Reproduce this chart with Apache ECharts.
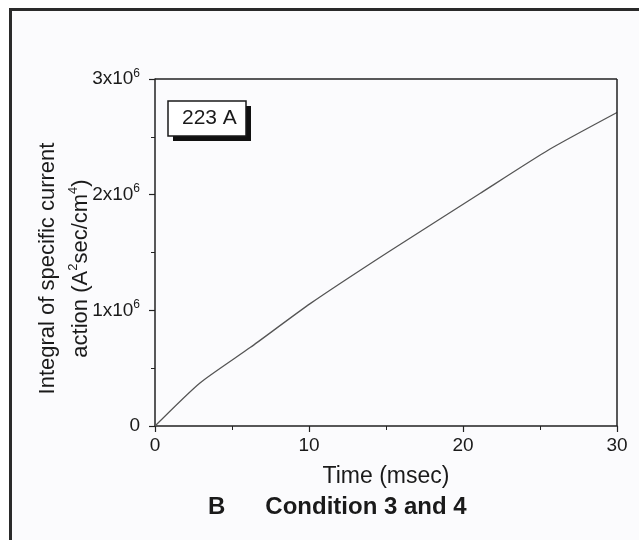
<!DOCTYPE html>
<html>
<head>
<meta charset="utf-8">
<script src="https://cdn.jsdelivr.net/npm/echarts@6/dist/echarts.min.js"></script>
<style>
  html, body { margin: 0; padding: 0; background: #ffffff; }
  #frame { position: absolute; left: 9px; top: 8px; width: 640px; height: 540px; border-left: 3px solid #2a2a2a; border-top: 3px solid #2a2a2a; background: #fbfbfd; }
  #chart { position: absolute; left: 0; top: 0; width: 639px; height: 540px; }
</style>
</head>
<body>
<div id="frame"></div>
<div id="chart"></div>
<script>
const seriesName = '223 A';
const timeMs = [0, 2.9, 6.2, 10.1, 15.1, 21.1, 25.6, 30];
const integralValues = [0, 0.37e6, 0.68e6, 1.06e6, 1.50e6, 2.01e6, 2.39e6, 2.71e6];
const xTicks = [0, 10, 20, 30];
const yTickLabels = { 0: '0', 1000000: '1x10', 2000000: '2x10', 3000000: '3x10' };

const font = 'Arial, "Liberation Sans", Helvetica, sans-serif';
const chart = echarts.init(document.getElementById('chart'), null, { renderer: 'canvas' });

const data = timeMs.map((t, i) => [t, integralValues[i]]);

chart.setOption({
  backgroundColor: 'transparent',
  animation: false,
  title: {
    text: '{b|B}{g|}{b|Condition 3 and 4}',
    left: 203,
    top: 490,
    textStyle: {
      rich: {
        b: { fontFamily: font, fontWeight: 'bold', fontSize: 24, color: '#1a1a1a' },
        g: { width: 40 }
      }
    }
  },
  legend: {
    data: [seriesName],
    left: 168,
    top: 101,
    z: 8,
    icon: 'rect',
    itemWidth: 0,
    itemHeight: 0,
    padding: [7, 9, 7, 9],
    backgroundColor: 'transparent',
    borderWidth: 0,
    textStyle: { fontFamily: font, fontSize: 21, color: '#1a1a1a' },
    selectedMode: false
  },
  grid: { left: 155, right: 22, top: 79, bottom: 114, show: false },
  xAxis: {
    type: 'value',
    min: 0, max: 30, interval: 10,
    name: 'Time (msec)',
    nameLocation: 'middle',
    nameGap: 39,
    nameMoveOverlap: false,
    nameTextStyle: { fontFamily: font, fontSize: 23, color: '#1a1a1a' },
    axisLine: { show: true, onZero: false, lineStyle: { color: '#222', width: 1.5 } },
    axisTick: { show: true, inside: false, length: 6, lineStyle: { color: '#222', width: 1.2 } },
    minorTick: { show: true, splitNumber: 2, length: 4, lineStyle: { color: '#222', width: 1 } },
    splitLine: { show: false },
    axisLabel: {
      margin: 10,
      fontFamily: font, fontSize: 19, color: '#1a1a1a',
      formatter: v => xTicks.includes(v) ? String(v) : ''
    }
  },
  yAxis: {
    type: 'value',
    min: 0, max: 3000000, interval: 1000000,
    name: '{a|Integral of specific current}\n{a|action (A}{s|2}{a|sec/cm}{s|4}{a|)}',
    nameLocation: 'middle',
    nameGap: 58,
    nameMoveOverlap: false,
    nameRotate: 90,
    nameTextStyle: {
      fontFamily: font, fontSize: 22, color: '#1a1a1a', lineHeight: 33,
      padding: [0, 32, 0, 0],
      rich: {
        a: { fontFamily: font, fontSize: 22, color: '#1a1a1a', lineHeight: 33 },
        s: { fontFamily: font, fontSize: 13, color: '#1a1a1a', padding: [0, 0, 14, 0], lineHeight: 33 }
      }
    },
    axisLine: { show: true, onZero: false, lineStyle: { color: '#222', width: 1.5 } },
    axisTick: { show: true, inside: false, length: 6, lineStyle: { color: '#222', width: 1.2 } },
    minorTick: { show: true, splitNumber: 2, length: 4, lineStyle: { color: '#222', width: 1 } },
    splitLine: { show: false },
    axisLabel: {
      margin: 15,
      fontFamily: font, fontSize: 19, color: '#1a1a1a',
      formatter: v => v === 0 ? '{n|0}' : '{n|' + yTickLabels[v] + '}{s|6}',
      rich: {
        n: { fontFamily: font, fontSize: 19, color: '#1a1a1a' },
        s: { fontFamily: font, fontSize: 12, color: '#1a1a1a', padding: [0, 0, 11, 0] }
      }
    }
  },
  series: [{
    name: seriesName,
    type: 'line',
    data: data,
    showSymbol: false,
    smooth: 0.2,
    lineStyle: { color: '#555', width: 1.3 },
    itemStyle: { color: 'transparent' }
  }],
  graphic: [
    { type: 'line', z: 10, shape: { x1: 155, y1: 79, x2: 617, y2: 79 }, style: { stroke: '#222', lineWidth: 1.5 } },
    { type: 'line', z: 10, shape: { x1: 617, y1: 79, x2: 617, y2: 426 }, style: { stroke: '#222', lineWidth: 1.5 } },
    { type: 'rect', z: 5, shape: { x: 173, y: 106, width: 78, height: 35 }, style: { fill: '#111' } },
    { type: 'rect', z: 6, shape: { x: 168, y: 101, width: 78, height: 35 }, style: { fill: '#ffffff', stroke: '#1a1a1a', lineWidth: 1.5 } }
  ]
});
</script>
</body>
</html>
